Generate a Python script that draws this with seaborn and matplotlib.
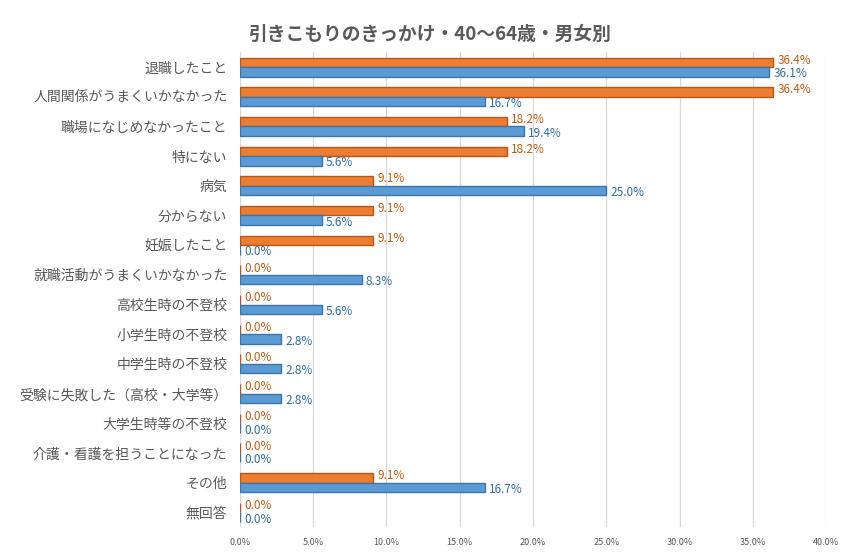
import matplotlib
matplotlib.use('Agg')

import matplotlib.pyplot as plt
import pandas as pd
import seaborn as sns
from matplotlib.ticker import PercentFormatter

categories = ['退職したこと', '人間関係がうまくいかなかった', '職場になじめなかったこと', '特にない',
              '病気', '分からない', '妊娠したこと', '就職活動がうまくいかなかった',
              '高校生時の不登校', '小学生時の不登校', '中学生時の不登校', '受験に失敗した（高校・大学等）',
              '大学生時等の不登校', '介護・看護を担うことになった', 'その他', '無回答']
female = [36.4, 36.4, 18.2, 18.2, 9.1, 9.1, 9.1, 0.0, 0.0, 0.0, 0.0, 0.0, 0.0, 0.0, 9.1, 0.0]
male = [36.1, 16.7, 19.4, 5.6, 25.0, 5.6, 0.0, 8.3, 5.6, 2.8, 2.8, 2.8, 0.0, 0.0, 16.7, 0.0]
series = ['女性', '男性']
colors = ['#ED7D31', '#5B9BD5']
edge_colors = ['#B4581C', '#3F74A6']
label_colors = ['#C55A11', '#2E6DA4']

df = pd.DataFrame({
    'cat': categories * 2,
    'value': female + male,
    'series': [series[0]] * len(categories) + [series[1]] * len(categories),
})

sns.set_style('white')
plt.rcParams['font.family'] = ['Noto Sans CJK JP', 'DejaVu Sans']

fig = plt.figure(figsize=(8.66, 5.56), dpi=100)
ax = fig.add_axes([0.277, 0.052, 0.677, 0.854])

sns.barplot(data=df, y='cat', x='value', hue='series', hue_order=series,
            palette=colors, saturation=1, orient='h', width=0.64, ax=ax,
            legend=False, linewidth=1.0)

# small vertical nudge so the stacked labels overlap a little less
nudges = [1.5, -1.5]
for cont, ec, lc, dy in zip(ax.containers, edge_colors, label_colors, nudges):
    for bar in cont:
        bar.set_edgecolor(ec)
    texts = ax.bar_label(cont, labels=[f'{v:.1f}%' for v in cont.datavalues],
                         padding=3, color=lc, fontsize=8.5)
    for t in texts:
        x0, y0 = t.xyann
        t.xyann = (x0, y0 + dy)

ax.set_xlim(0, 40)
ax.set_xticks(range(0, 41, 5))
ax.xaxis.set_major_formatter(PercentFormatter(decimals=1))
ax.grid(axis='x', color='#D9D9D9', linewidth=0.9)
ax.set_axisbelow(True)
for s in ax.spines.values():
    s.set_visible(False)
ax.set_xlabel('')
ax.set_ylabel('')
ax.tick_params(axis='x', labelsize=6.5, labelcolor='#595959', length=0, pad=8)
ax.tick_params(axis='y', labelsize=10, labelcolor='#595959', length=0, pad=9)

fig.suptitle('引きこもりのきっかけ・40〜64歳・男女別', x=0.497, y=0.955,
             fontsize=13.5, fontweight='bold', color='#595959')

plt.savefig('out.png', dpi=100)
plt.close()
